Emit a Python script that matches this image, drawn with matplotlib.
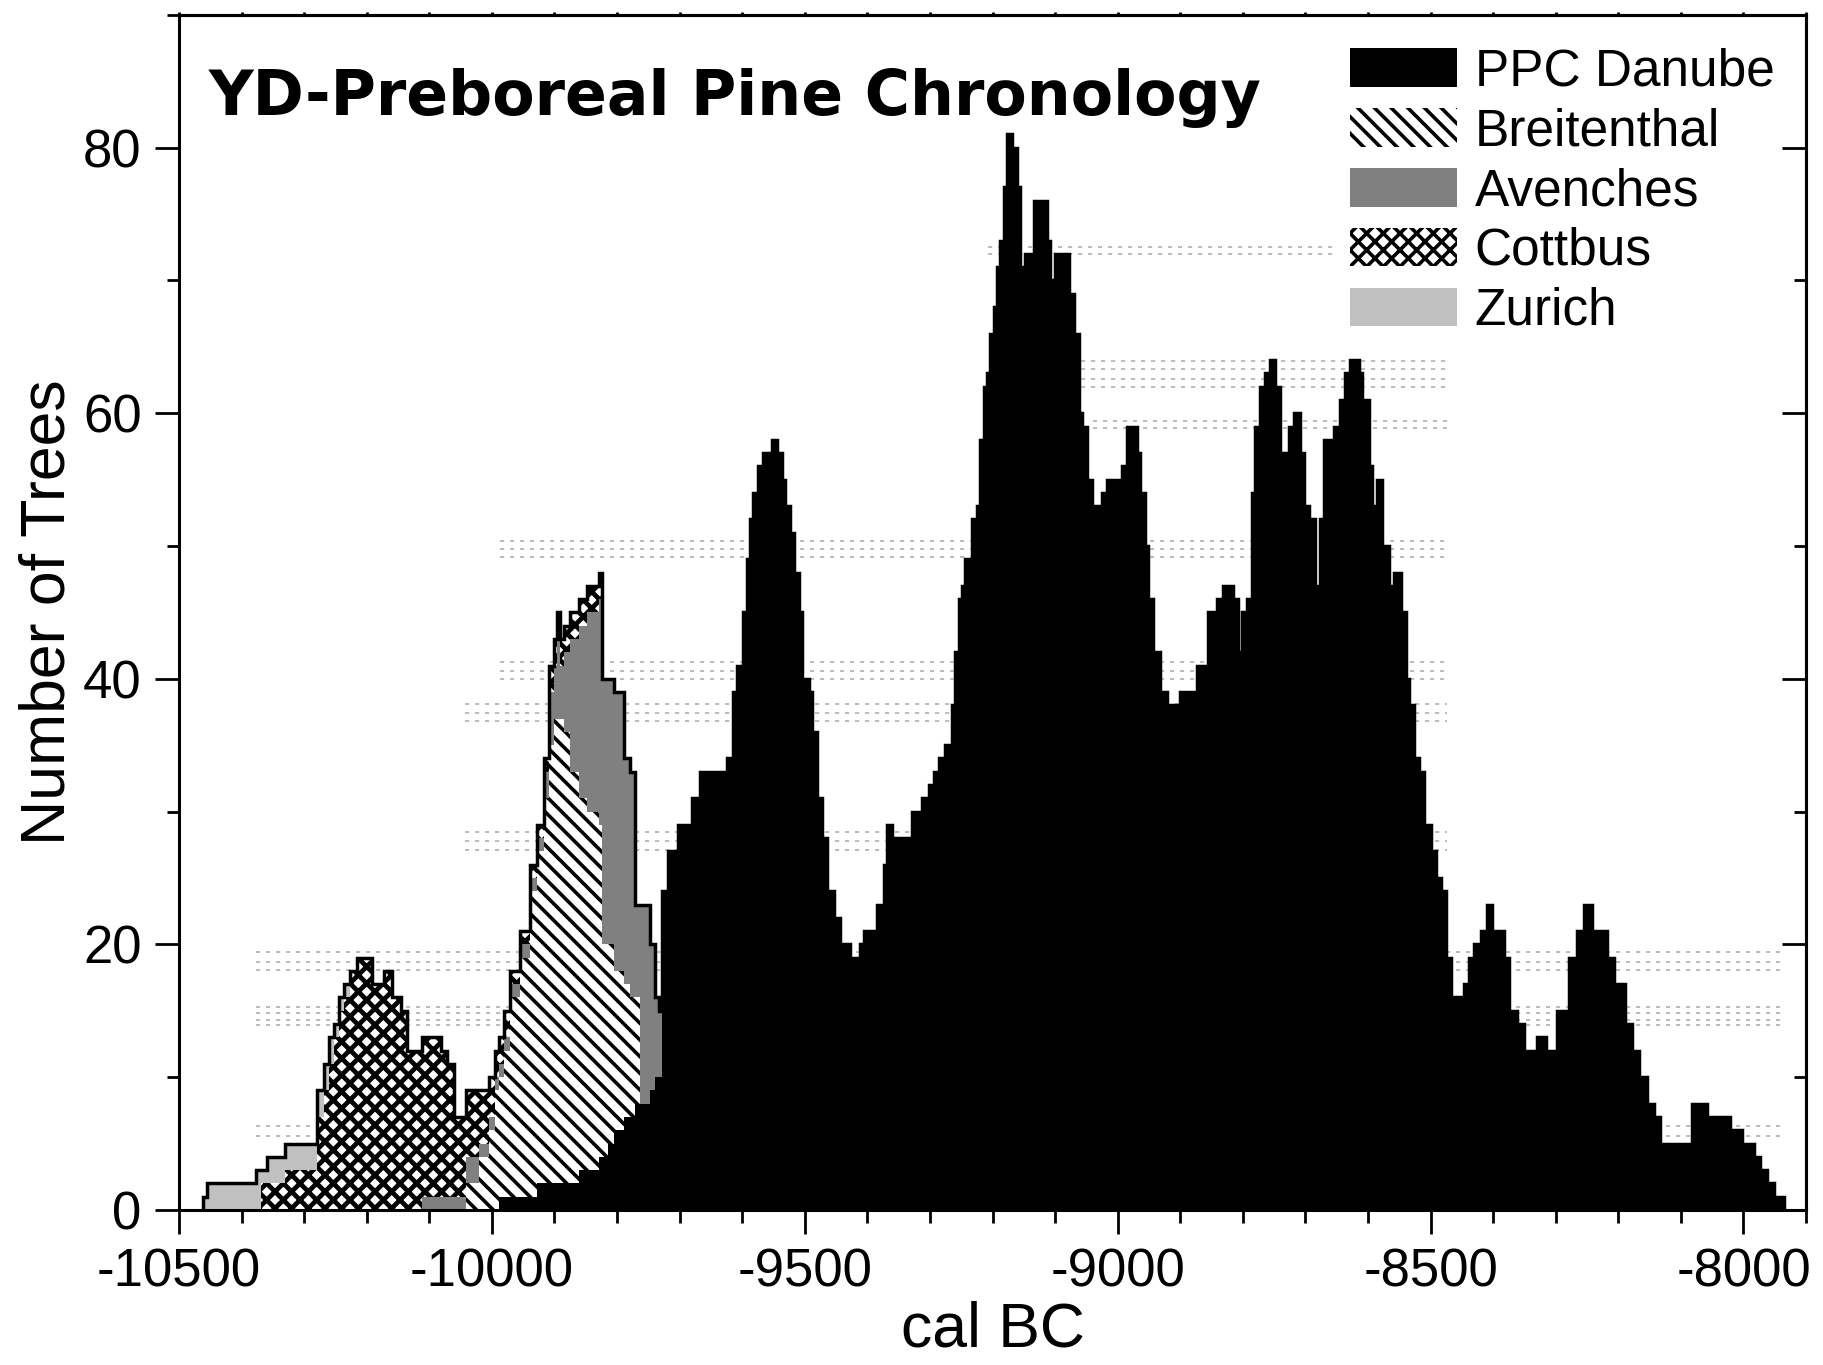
import numpy as np
import matplotlib
matplotlib.use("Agg")
import matplotlib.pyplot as plt
from matplotlib.patches import Patch
from matplotlib.ticker import MultipleLocator

# tree counts per chronology: (first year of the step, number of trees), step holds until next entry
DANUBE = [
    (-9989, 1), (-9928, 2), (-9861, 3), (-9829, 4), (-9815, 5), (-9805, 6), (-9789, 7), (-9771, 8),
    (-9747, 9), (-9739, 10), (-9728, 24), (-9718, 27), (-9702, 29), (-9680, 31), (-9667, 33),
    (-9625, 34), (-9614, 39), (-9609, 41), (-9598, 45), (-9593, 49), (-9587, 52), (-9582, 54),
    (-9574, 56), (-9566, 57), (-9561, 56), (-9555, 57), (-9553, 58), (-9545, 57), (-9537, 55),
    (-9531, 53), (-9523, 51), (-9518, 48), (-9510, 45), (-9505, 40), (-9494, 39), (-9489, 36),
    (-9481, 31), (-9473, 28), (-9465, 24), (-9454, 22), (-9443, 20), (-9427, 19), (-9411, 20),
    (-9406, 21), (-9385, 23), (-9374, 26), (-9369, 29), (-9361, 28), (-9329, 30), (-9313, 31),
    (-9302, 32), (-9294, 33), (-9286, 34), (-9276, 35), (-9265, 38), (-9260, 42), (-9254, 46),
    (-9249, 47), (-9244, 49), (-9233, 52), (-9225, 53), (-9220, 58), (-9214, 62), (-9209, 63),
    (-9204, 66), (-9198, 68), (-9193, 71), (-9188, 73), (-9182, 77), (-9177, 81), (-9169, 80),
    (-9161, 77), (-9156, 71), (-9148, 72), (-9134, 76), (-9113, 73), (-9108, 70), (-9100, 72),
    (-9078, 69), (-9070, 66), (-9062, 60), (-9057, 59), (-9049, 55), (-9041, 53), (-9025, 54),
    (-9017, 55), (-8993, 56), (-8985, 59), (-8969, 57), (-8964, 54), (-8956, 50), (-8951, 46),
    (-8943, 42), (-8932, 39), (-8921, 38), (-8913, 36), (-8908, 38), (-8900, 39), (-8873, 41),
    (-8855, 45), (-8841, 46), (-8836, 45), (-8831, 47), (-8815, 46), (-8807, 42), (-8801, 45),
    (-8793, 46), (-8785, 54), (-8780, 59), (-8772, 62), (-8764, 63), (-8756, 64), (-8748, 62),
    (-8740, 57), (-8727, 59), (-8719, 60), (-8708, 57), (-8703, 53), (-8695, 52), (-8684, 47),
    (-8676, 52), (-8670, 58), (-8655, 59), (-8644, 61), (-8636, 63), (-8628, 64), (-8615, 63),
    (-8610, 61), (-8599, 56), (-8594, 53), (-8586, 55), (-8578, 50), (-8567, 47), (-8559, 48),
    (-8548, 45), (-8540, 40), (-8535, 38), (-8527, 34), (-8519, 33), (-8511, 29), (-8500, 27),
    (-8492, 25), (-8484, 24), (-8476, 19), (-8468, 16), (-8447, 17), (-8439, 19), (-8431, 20),
    (-8420, 21), (-8410, 23), (-8402, 21), (-8383, 19), (-8375, 15), (-8362, 14), (-8351, 12),
    (-8330, 13), (-8316, 12), (-8298, 15), (-8279, 19), (-8266, 21), (-8255, 23), (-8242, 21),
    (-8218, 19), (-8207, 17), (-8189, 14), (-8178, 12), (-8167, 10), (-8154, 8), (-8143, 7),
    (-8133, 5), (-8082, 8), (-8058, 7), (-8021, 6), (-8002, 5), (-7983, 4), (-7973, 3),
    (-7962, 2), (-7952, 1), (-7936, 0),
]
BREITENTHAL = [
    (-10042, 2), (-10020, 4), (-10005, 6), (-9995, 9), (-9981, 11), (-9971, 15), (-9955, 18),
    (-9939, 23), (-9928, 25), (-9917, 29), (-9909, 33), (-9901, 35), (-9885, 34), (-9875, 31),
    (-9861, 28), (-9848, 27), (-9829, 25), (-9824, 16), (-9815, 15), (-9805, 12), (-9789, 10),
    (-9779, 9), (-9771, 8), (-9764, 0),
]
AVENCHES = [
    (-10112, 1), (-10042, 2), (-10020, 1), (-9917, 2), (-9909, 4), (-9896, 6), (-9891, 4),
    (-9885, 6), (-9875, 10), (-9861, 13), (-9848, 15), (-9829, 17), (-9824, 20), (-9805, 21),
    (-9789, 17), (-9771, 7), (-9764, 15), (-9747, 11), (-9739, 6), (-9733, 5), (-9728, 0),
]
COTTBUS = [
    (-10369, 2), (-10331, 3), (-10279, 7), (-10269, 9), (-10261, 11), (-10253, 13), (-10245, 15),
    (-10237, 16), (-10226, 18), (-10216, 19), (-10192, 17), (-10173, 18), (-10160, 16),
    (-10146, 15), (-10136, 12), (-10082, 11), (-10072, 10), (-10061, 6), (-10042, 5),
    (-10020, 4), (-10005, 3), (-9995, 2), (-9971, 1), (-9909, 2), (-9824, 0),
]
ZURICH = [
    (-10462, 1), (-10455, 2), (-10377, 3), (-10369, 1), (-10359, 2), (-10253, 1), (-10226, 0),
]

# faint reference lines behind the histogram (levels in trees, span in years)
GUIDE_LEVELS = [
    (72.5, 72.0), (63.9, 63.3, 62.6, 62.0), (59.4, 58.9), (50.4, 49.8, 49.2),
    (41.3, 40.6, 40.0), (38.1, 37.4, 36.8), (28.5, 27.8, 27.1), (19.4, 18.7, 18.1),
    (15.3, 14.8, 14.3, 13.9), (6.3, 5.6),
]
GUIDE_SPANS = [
    (-9207, -8650), (-9058, -8473), (-9040, -8473), (-9987, -8473), (-9987, -8473),
    (-10043, -8473), (-10043, -8473), (-10377, -7942), (-10377, -7942), (-10377, -7942),
]

LABELS = ["PPC Danube", "Breitenthal", "Avenches", "Cottbus", "Zurich"]


def on_grid(pairs, edges):
    yrs = np.array([p[0] for p in pairs])
    num = np.array([p[1] for p in pairs])
    i = np.searchsorted(yrs, edges, side="right") - 1
    return np.where(i >= 0, num[np.maximum(i, 0)], 0)


plt.rcParams["font.family"] = ["Liberation Sans", "DejaVu Sans"]
plt.rcParams["axes.unicode_minus"] = False
plt.rcParams["hatch.linewidth"] = 2.6
plt.rcParams["hatch.color"] = "black"

series = [DANUBE, BREITENTHAL, AVENCHES, COTTBUS, ZURICH]
styles = [
    dict(facecolor="black", edgecolor="black", hatch=None),
    dict(facecolor="white", edgecolor="black", hatch="\\\\"),
    dict(facecolor="#808080", edgecolor="#808080", hatch=None),
    dict(facecolor="white", edgecolor="black", hatch="xx"),
    dict(facecolor="#c0c0c0", edgecolor="#c0c0c0", hatch=None),
]
hatch_widths = [2.6, 2.6, 2.6, 3.4, 2.6]

edges = np.unique(np.concatenate([[p[0] for p in s] for s in series]))

fig = plt.figure(figsize=(18.23, 13.65), dpi=100)
ax = fig.add_axes([0.0982, 0.1136, 0.8925, 0.8755])

# dotted guide lines
for levels, (x0, x1) in zip(GUIDE_LEVELS, GUIDE_SPANS):
    for y in levels:
        ax.plot([x0, x1], [y, y], color="#b0b0b0", lw=1.2, ls=(0, (2.5, 3.5)), zorder=1)

# stacked step areas, Danube at the bottom
handles = []
lower = np.zeros(len(edges) - 1)
for s, st, hw in zip(series, styles, hatch_widths):
    upper = lower + on_grid(s, edges[:-1])
    with plt.rc_context({"hatch.linewidth": hw}):
        ax.stairs(upper, edges, baseline=lower, fill=True, lw=0, zorder=2, **st)
        handles.append(Patch(lw=0, **st))
    lower = upper

# outline of the total count
ax.stairs(lower, edges, baseline=0, color="black", lw=2.5, zorder=3)

ax.set_xlim(-10500, -7900)
ax.set_ylim(0, 90)
ax.set_xticks(np.arange(-10500, -7999, 500))
ax.xaxis.set_minor_locator(MultipleLocator(100))
ax.set_yticks([0, 20, 40, 60, 80])
ax.yaxis.set_minor_locator(MultipleLocator(10))
ax.tick_params(which="major", direction="out", length=17, width=2, labelsize=38, pad=10)
ax.tick_params(which="minor", direction="out", length=9, width=2)
ax.tick_params(top=False, right=False)
for sp in ax.spines.values():
    sp.set_linewidth(2.2)

top = ax.secondary_xaxis("top")
top.set_xticks(np.arange(-10500, -7899, 100))
top.tick_params(direction="out", length=2.5, width=2, labeltop=False)
top.spines["top"].set_linewidth(2.2)

right = ax.secondary_yaxis("right")
right.set_yticks([0, 20, 40, 60, 80])
right.yaxis.set_minor_locator(MultipleLocator(10))
right.tick_params(which="major", direction="in", length=17, width=2, labelright=False)
right.tick_params(which="minor", direction="in", length=9, width=2)
right.spines["right"].set_linewidth(2.2)

ax.set_xlabel("cal BC", fontsize=45, labelpad=2)
ax.set_ylabel("Number of Trees", fontsize=45, labelpad=4)

ax.text(0.018, 0.916, "YD-Preboreal Pine Chronology", transform=ax.transAxes,
        fontsize=44.5, fontweight="bold", family=["DejaVu Sans"],
        va="baseline", ha="left")

ax.legend(handles, LABELS, loc="upper left", bbox_to_anchor=(0.7197, 0.9726),
          frameon=False, fontsize=37, handlelength=2.08, handleheight=0.78,
          handletextpad=0.35, labelspacing=0.21, borderpad=0, borderaxespad=0)

fig.savefig("out.png", dpi=100)
